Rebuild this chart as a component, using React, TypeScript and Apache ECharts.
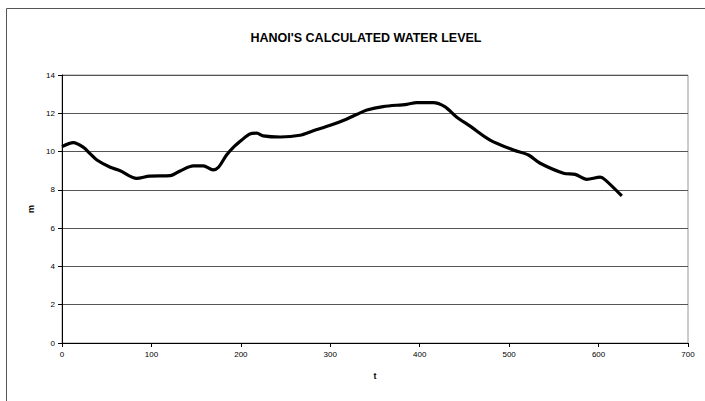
import React, { useEffect, useRef } from "react";
import * as echarts from "echarts";

const titleText = "HANOI'S CALCULATED WATER LEVEL";
const xName = "t";
const yName = "m";
const tValues = [0, 12.7, 24, 31, 39, 54, 65, 83.5, 98, 121, 132, 147, 158, 169, 175, 184, 191.6, 201, 210, 217.8, 225, 244, 266, 281, 300, 318, 330, 341, 359, 385.5, 396.7, 415, 428, 441.5, 456, 478.7, 504.8, 521.6, 534.7, 560.8, 573.8, 586.9, 601.8, 607.4, 626];
const levelValues = [10.26, 10.47, 10.22, 9.91, 9.56, 9.18, 9.0, 8.6, 8.72, 8.74, 8.99, 9.25, 9.25, 9.04, 9.18, 9.82, 10.22, 10.6, 10.92, 10.96, 10.82, 10.76, 10.85, 11.09, 11.37, 11.69, 11.95, 12.17, 12.35, 12.47, 12.56, 12.56, 12.35, 11.79, 11.34, 10.6, 10.08, 9.82, 9.39, 8.87, 8.81, 8.55, 8.66, 8.52, 7.68];

export default function App() {
  const ref = useRef<HTMLDivElement>(null);
  useEffect(() => {
    if (!ref.current) return;
    const chart = echarts.init(ref.current, undefined, { renderer: "svg" });
    const labelFont = { fontFamily: "Liberation Sans, Arial, sans-serif", fontSize: 8, color: "#000" };
    chart.setOption({
      animation: false,
      backgroundColor: "#fff",
      title: {
        text: titleText,
        left: 361,
        top: 26,
        textAlign: "center",
        textStyle: { fontFamily: "Liberation Sans, Arial, sans-serif", fontSize: 12.5, fontWeight: "bold", color: "#000" },
      },
      graphic: [
        { type: "line", shape: { x1: 6.5, y1: 8.5, x2: 705, y2: 8.5 }, style: { stroke: "#555", lineWidth: 1 } },
        { type: "line", shape: { x1: 6.5, y1: 8.5, x2: 6.5, y2: 401 }, style: { stroke: "#555", lineWidth: 1 } },
      ],
      grid: { left: 62, right: 17, top: 75, bottom: 58, show: true, borderColor: "#999", borderWidth: 1, containLabel: false },
      xAxis: {
        type: "value",
        min: 0,
        max: 700,
        interval: 100,
        name: xName,
        nameLocation: "middle",
        nameGap: 28,
        nameTextStyle: { ...labelFont, fontSize: 9, fontWeight: "bold" },
        axisLine: { show: true, lineStyle: { color: "#000", width: 1 } },
        axisTick: { show: true, length: 4, lineStyle: { color: "#000" } },
        axisLabel: { ...labelFont, margin: 7 },
        splitLine: { show: false },
      },
      yAxis: {
        type: "value",
        min: 0,
        max: 14,
        interval: 2,
        name: yName,
        nameLocation: "middle",
        nameRotate: 90,
        nameGap: 22,
        nameTextStyle: { ...labelFont, fontSize: 9, fontWeight: "bold" },
        axisLine: { show: true, lineStyle: { color: "#000", width: 1 } },
        axisTick: { show: true, length: 4, lineStyle: { color: "#000" } },
        axisLabel: { ...labelFont, margin: 7 },
        splitLine: { show: true, lineStyle: { color: "#555", width: 1 } },
      },
      series: [
        {
          type: "line",
          data: tValues.map((t, i) => [t, levelValues[i]]),
          showSymbol: false,
          smooth: 0.3,
          lineStyle: { color: "#000", width: 3.2 },
        },
      ],
    });
    return () => chart.dispose();
  }, []);
  return <div ref={ref} style={{ position: "fixed", left: 0, top: 0, width: 705, height: 401 }} />;
}
